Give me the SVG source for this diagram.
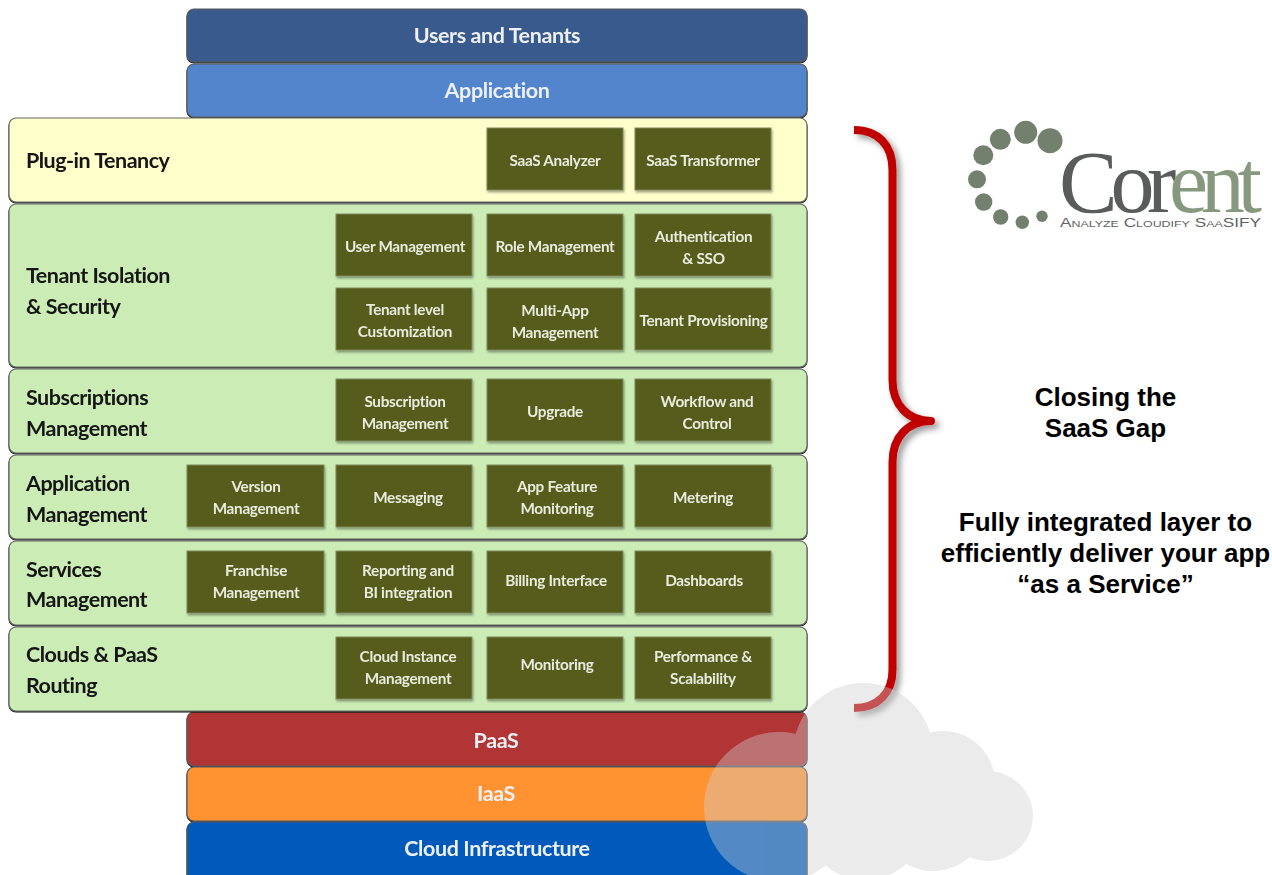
<svg xmlns="http://www.w3.org/2000/svg" width="1272" height="875" viewBox="0 0 1272 875">
<style>
text{font-family:"Lato","Open Sans","Liberation Sans",sans-serif}
.bar{stroke:#5a5a5a;stroke-width:1.2;filter:url(#bb)}
.layer{stroke:#666;stroke-width:1.2;filter:url(#bb)}
.box{fill:#545b1c;stroke:#7f8a5c;stroke-width:1;filter:url(#bs)}
.bt{font-size:15.300px;letter-spacing:-.3px;font-weight:700;fill:#e9ebdc;text-anchor:middle;filter:url(#soft)}
.lt{font-size:21.500px;letter-spacing:-.5px;font-weight:700;fill:#141414;filter:url(#soft)}
.tt{font-size:21.500px;letter-spacing:-.4px;font-weight:700;fill:#eef0f4;text-anchor:middle;filter:url(#soft)}
.rt{font-family:"Liberation Sans",Arial,sans-serif;font-size:26px;font-weight:700;fill:#000;text-anchor:middle}
.dot{fill:#73806e}
</style>
<defs>
<filter id="bs" x="-5%" y="-5%" width="115%" height="120%"><feDropShadow dx="1" dy="2" stdDeviation="1" flood-color="#000" flood-opacity=".35"/></filter>
<filter id="bb" x="-2%" y="-5%" width="104%" height="115%"><feDropShadow dx="0" dy="1" stdDeviation=".3" flood-color="#000" flood-opacity=".95"/></filter>
<filter id="bk" x="-20%" y="-5%" width="140%" height="110%"><feDropShadow dx="4" dy="4" stdDeviation="3" flood-color="#000" flood-opacity=".4"/></filter>
<filter id="soft" x="-5%" y="-10%" width="110%" height="120%"><feGaussianBlur stdDeviation=".3"/></filter>
</defs>
<rect width="1272" height="875" fill="#fff"/>
<g id="connectors"><path d="M854 130C878 130 892.500 145 892.500 170V380C892.500 405 908 421 931 421C908 421 892.500 437 892.500 462V670C892.500 693 878 708 854 708" fill="none" stroke="#c00000" stroke-width="8" stroke-linejoin="round" filter="url(#bk)"/></g>
<g id="users-tenants"><rect class="bar" x="187" y="9" width="620" height="53" rx="7" fill="#375a8c"/><text class="tt" x="497" y="43">Users and Tenants</text></g>
<g id="application"><rect class="bar" x="187" y="64" width="620" height="53" rx="7" fill="#5285cc"/><text class="tt" x="497" y="98">Application</text></g>
<g id="paas"><rect class="bar" x="187" y="712" width="620" height="54" rx="7" fill="#b13535"/><text class="tt" x="496" y="748">PaaS</text></g>
<g id="iaas"><rect class="bar" x="187" y="767" width="620" height="54" rx="7" fill="#ff9330"/><text class="tt" x="496" y="801">IaaS</text></g>
<g id="cloud-infrastructure"><rect class="bar" x="187" y="822" width="620" height="60" rx="7" fill="#005abc"/><text class="tt" x="497" y="856">Cloud Infrastructure</text></g>
<g id="plugin-tenancy"><rect class="layer" x="9" y="118" width="798" height="84" rx="7" fill="#ffffcc"/><text class="lt" x="26" y="168">Plug-in Tenancy</text>
<rect class="box" x="487" y="128" width="136" height="62"/><text class="bt" x="555" y="166">SaaS Analyzer</text>
<rect class="box" x="635" y="128" width="136" height="62"/><text class="bt" x="703" y="166">SaaS Transformer</text></g>
<g id="tenant-isolation"><rect class="layer" x="9" y="204" width="798" height="163" rx="7" fill="#cbedb5"/><text class="lt" x="26" y="283">Tenant Isolation</text><text class="lt" x="26" y="314">&amp; Security</text>
<rect class="box" x="336" y="214" width="136" height="62"/><text class="bt" x="405" y="252">User Management</text>
<rect class="box" x="487" y="214" width="136" height="62"/><text class="bt" x="555" y="252">Role Management</text>
<rect class="box" x="635" y="214" width="136" height="62"/><text class="bt" x="703.500" y="242">Authentication</text><text class="bt" x="703.500" y="264">&amp; SSO</text>
<rect class="box" x="336" y="288" width="136" height="62"/><text class="bt" x="405" y="315">Tenant level</text><text class="bt" x="405" y="337">Customization</text>
<rect class="box" x="487" y="288" width="136" height="62"/><text class="bt" x="555" y="316">Multi-App</text><text class="bt" x="555" y="338">Management</text>
<rect class="box" x="635" y="288" width="136" height="62"/><text class="bt" x="703.500" y="326">Tenant Provisioning</text></g>
<g id="subscriptions"><rect class="layer" x="9" y="369" width="798" height="84" rx="7" fill="#cbedb5"/><text class="lt" x="26" y="405">Subscriptions</text><text class="lt" x="26" y="436">Management</text>
<rect class="box" x="336" y="379" width="136" height="62"/><text class="bt" x="405" y="407">Subscription</text><text class="bt" x="405" y="429">Management</text>
<rect class="box" x="487" y="379" width="136" height="62"/><text class="bt" x="555" y="417">Upgrade</text>
<rect class="box" x="635" y="379" width="136" height="62"/><text class="bt" x="707" y="407">Workflow and</text><text class="bt" x="707" y="429">Control</text></g>
<g id="app-management"><rect class="layer" x="9" y="455" width="798" height="84" rx="7" fill="#cbedb5"/><text class="lt" x="26" y="491">Application</text><text class="lt" x="26" y="522">Management</text>
<rect class="box" x="187" y="465" width="137" height="62"/><text class="bt" x="256" y="492">Version</text><text class="bt" x="256" y="514">Management</text>
<rect class="box" x="336" y="465" width="136" height="62"/><text class="bt" x="408" y="503">Messaging</text>
<rect class="box" x="487" y="465" width="136" height="62"/><text class="bt" x="557" y="492">App Feature</text><text class="bt" x="557" y="514">Monitoring</text>
<rect class="box" x="635" y="465" width="136" height="62"/><text class="bt" x="703" y="503">Metering</text></g>
<g id="services"><rect class="layer" x="9" y="541" width="798" height="84" rx="7" fill="#cbedb5"/><text class="lt" x="26" y="576.500">Services</text><text class="lt" x="26" y="607">Management</text>
<rect class="box" x="187" y="551" width="137" height="62"/><text class="bt" x="256" y="576">Franchise</text><text class="bt" x="256" y="598">Management</text>
<rect class="box" x="336" y="551" width="136" height="62"/><text class="bt" x="408" y="576">Reporting and</text><text class="bt" x="408" y="598">BI integration</text>
<rect class="box" x="487" y="551" width="136" height="62"/><text class="bt" x="556" y="586">Billing Interface</text>
<rect class="box" x="635" y="551" width="136" height="62"/><text class="bt" x="704" y="586">Dashboards</text></g>
<g id="clouds-routing"><rect class="layer" x="9" y="627" width="798" height="84" rx="7" fill="#cbedb5"/><text class="lt" x="26" y="662">Clouds &amp; PaaS</text><text class="lt" x="26" y="693">Routing</text>
<rect class="box" x="336" y="637" width="136" height="62"/><text class="bt" x="408" y="662">Cloud Instance</text><text class="bt" x="408" y="684">Management</text>
<rect class="box" x="487" y="637" width="136" height="62"/><text class="bt" x="557" y="670">Monitoring</text>
<rect class="box" x="635" y="637" width="136" height="62"/><text class="bt" x="703" y="662">Performance &amp;</text><text class="bt" x="703" y="684">Scalability</text></g>
<g id="cloud" opacity=".4" fill="#cfcfcf"><circle cx="779" cy="807" r="75"/><circle cx="863" cy="753" r="70"/><circle cx="943" cy="783" r="52"/><circle cx="988" cy="816" r="45"/><circle cx="933" cy="815" r="56"/><circle cx="865" cy="820" r="60"/><rect x="800" y="760" width="150" height="80"/></g>
<g id="logo"><circle class="dot" cx="1025.700" cy="132.300" r="11.500"/><circle class="dot" cx="1050" cy="140.700" r="12.500"/><circle class="dot" cx="1000.300" cy="139.300" r="10.500"/><circle class="dot" cx="983.300" cy="155.300" r="10"/><circle class="dot" cx="977" cy="179.300" r="9"/><circle class="dot" cx="983.700" cy="202" r="8.700"/><circle class="dot" cx="1000.700" cy="217" r="7.700"/><circle class="dot" cx="1022.300" cy="222.300" r="6.700"/><circle class="dot" cx="1042" cy="216.300" r="5.700"/>
<text x="1059" y="212" style="font-family:'Liberation Serif',serif;font-size:88px;letter-spacing:-7.300px" fill="#5a5c5c">Cor<tspan fill="#86997e">ent</tspan></text>
<text x="1060" y="227" textLength="201" lengthAdjust="spacingAndGlyphs" style="font-family:'Liberation Sans',sans-serif;font-size:12.500px;font-variant:small-caps" fill="#60645f">Analyze Cloudify SaaSIFY</text></g>
<g id="caption"><text class="rt" x="1105.500" y="406">Closing the</text><text class="rt" x="1105.500" y="437">SaaS Gap</text><text class="rt" x="1105.500" y="531">Fully integrated layer to</text><text class="rt" x="1105.500" y="562">efficiently deliver your app</text><text class="rt" x="1105.500" y="593">“as a Service”</text></g>
</svg>
